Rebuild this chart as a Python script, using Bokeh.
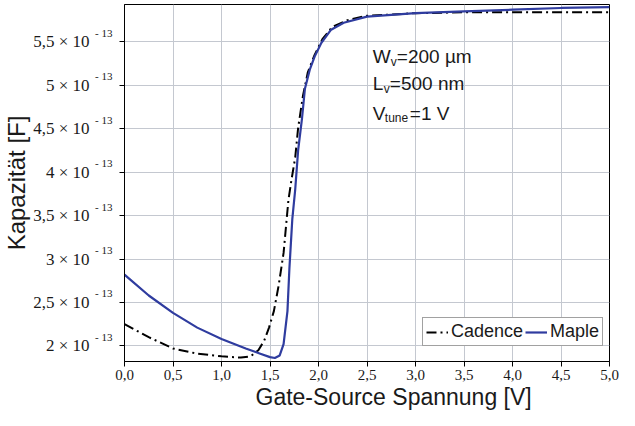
from bokeh.plotting import figure
from bokeh.models import (Range1d, FixedTicker, Label, Legend, LegendItem, Title,
                          LinearAxis)
from bokeh.embed import file_html
from bokeh.resources import INLINE

# ---- data (capacitance in units of 1e-13 F) ----
voltage_cadence = [0.0, 0.25, 0.5, 0.75, 1.0, 1.2, 1.3, 1.38, 1.44, 1.49, 1.54, 1.59,
                   1.64, 1.69, 1.72, 1.76, 1.79, 1.84, 1.89, 1.96, 2.04, 2.14, 2.3,
                   2.5, 3.0, 3.5, 4.0, 4.5, 5.0]
cap_cadence = [2.25, 2.10, 1.97, 1.91, 1.88, 1.865, 1.88, 1.95, 2.06, 2.21, 2.40, 2.70,
               3.07, 3.68, 3.90, 4.17, 4.51, 4.88, 5.15, 5.35, 5.53, 5.67, 5.75,
               5.80, 5.83, 5.84, 5.84, 5.84, 5.84]

voltage_maple = [0.0, 0.25, 0.5, 0.75, 1.0, 1.25, 1.4, 1.5, 1.55, 1.6, 1.64, 1.68,
                 1.70, 1.73, 1.76, 1.79, 1.83, 1.86, 1.91, 1.96, 2.03, 2.13, 2.26,
                 2.5, 3.0, 3.5, 4.0, 4.5, 5.0]
cap_maple = [2.82, 2.58, 2.38, 2.21, 2.08, 1.97, 1.91, 1.87, 1.86, 1.89, 2.02, 2.40,
             2.89, 3.46, 3.80, 4.25, 4.62, 4.96, 5.18, 5.33, 5.49, 5.64, 5.72,
             5.79, 5.83, 5.85, 5.87, 5.89, 5.90]

series_names = ["Cadence", "Maple"]

x_ticks = [0.0, 0.5, 1.0, 1.5, 2.0, 2.5, 3.0, 3.5, 4.0, 4.5, 5.0]
x_tick_labels = ["0,0", "0,5", "1,0", "1,5", "2,0", "2,5", "3,0", "3,5", "4,0", "4,5", "5,0"]
y_ticks = [2.0, 2.5, 3.0, 3.5, 4.0, 4.5, 5.0, 5.5]
y_tick_mantissas = ["2 × 10", "2,5 × 10", "3 × 10", "3,5 × 10", "4 × 10", "4,5 × 10",
                    "5 × 10", "5,5 × 10"]
y_tick_exponent = "- 13"

x_label = "Gate-Source Spannung [V]"
y_label = "Kapazität [F]"

x_start, x_end = 0.0, 5.0
y_start, y_end = 1.82, 5.93

SANS = "Liberation Sans"
SERIF = "Liberation Serif"
TXT = "#1a1a1a"
NBSP = "\u00a0"

p = figure(width=619, height=410, output_backend="svg", toolbar_location=None,
           x_range=Range1d(x_start, x_end), y_range=Range1d(y_start, y_end),
           min_border_left=124, min_border_right=10, min_border_top=4,
           min_border_bottom=40)
p.background_fill_color = "white"
p.border_fill_color = "white"
p.outline_line_color = "black"
p.outline_line_width = 1

# grid
for g in (p.xgrid, p.ygrid):
    g.grid_line_color = "#c4c8d0"
    g.grid_line_width = 1
p.xgrid.ticker = FixedTicker(ticks=x_ticks)
p.ygrid.ticker = FixedTicker(ticks=y_ticks)

# x axis
p.xaxis.ticker = FixedTicker(ticks=x_ticks)
p.xaxis.major_label_overrides = {t: s for t, s in zip(x_ticks, x_tick_labels)}
p.xaxis.major_label_standoff = 3

# inner y axis: ticks + raised exponent
p.yaxis.ticker = FixedTicker(ticks=y_ticks)
p.yaxis.major_label_overrides = {t: y_tick_exponent + "\n" + NBSP for t in y_ticks}
p.yaxis.major_label_standoff = 7
p.yaxis.major_label_text_line_height = 1.5

for ax in (p.xaxis, p.yaxis):
    ax.major_label_text_font = SERIF
    ax.major_label_text_color = TXT
    ax.axis_line_color = "black"
    ax.axis_line_width = 1
    ax.major_tick_line_color = "black"
    ax.major_tick_out = 5
    ax.major_tick_in = 0
    ax.minor_tick_out = 0
    ax.minor_tick_in = 0
    ax.minor_tick_line_color = None
p.xaxis.major_label_text_font_size = "15px"
p.yaxis.major_label_text_font_size = "11px"

# outer y axis: mantissa labels + axis title
outer = LinearAxis(ticker=FixedTicker(ticks=y_ticks),
                   major_label_overrides={t: s for t, s in zip(y_ticks, y_tick_mantissas)},
                   axis_line_color=None, major_tick_line_color=None,
                   major_tick_out=0, major_tick_in=0,
                   minor_tick_line_color=None, minor_tick_out=0, minor_tick_in=0,
                   major_label_standoff=3,
                   major_label_text_font=SERIF, major_label_text_font_size="17px",
                   major_label_text_color=TXT,
                   axis_label=y_label, axis_label_standoff=0,
                   axis_label_text_font=SANS, axis_label_text_font_size="24px",
                   axis_label_text_font_style="normal", axis_label_text_color=TXT)
p.add_layout(outer, "left")

# x axis title, shifted right like the reference
p.add_layout(Title(text=x_label, align="left", offset=131, vertical_align="middle",
                   standoff=0, text_font=SANS, text_font_size="23px",
                   text_font_style="normal", text_color=TXT), "below")

# curves
r_cad = p.line(voltage_cadence, cap_cadence, line_color="black", line_width=2,
               line_dash="10 4 2 4")
r_map = p.line(voltage_maple, cap_maple, line_color="#2f3c9f", line_width=2.2)

# parameter annotation
ann_x = 2.56
def add_param(y, main, sub, rest, sub_off, rest_off):
    p.add_layout(Label(x=ann_x, y=y, text=main, text_font=SANS, text_font_size="19px",
                       text_baseline="alphabetic", text_color=TXT))
    p.add_layout(Label(x=ann_x, y=y, x_offset=sub_off, y_offset=-5, text=sub,
                       text_font=SANS, text_font_size="12px",
                       text_baseline="alphabetic", text_color=TXT))
    p.add_layout(Label(x=ann_x, y=y, x_offset=rest_off, text=rest, text_font=SANS,
                       text_font_size="19px", text_baseline="alphabetic",
                       text_color=TXT))

add_param(5.33, "W", "v", "=200 µm", 18, 24)
add_param(5.02, "L", "v", "=500 nm", 11, 17)
add_param(4.68, "V", "tune", "=1 V", 12, 37)

# legend
legend = Legend(items=[LegendItem(label=series_names[0], renderers=[r_cad]),
                       LegendItem(label=series_names[1], renderers=[r_map])],
                orientation="horizontal", location=(298, 15),
                label_text_font=SANS, label_text_font_size="18px",
                label_text_color=TXT,
                glyph_width=22, glyph_height=18, label_height=18,
                label_standoff=3, spacing=2, padding=3, margin=0,
                border_line_color="#444444", border_line_width=1,
                background_fill_color="white", background_fill_alpha=1)
p.add_layout(legend)

open("out.html", "w").write(file_html(p, INLINE))
